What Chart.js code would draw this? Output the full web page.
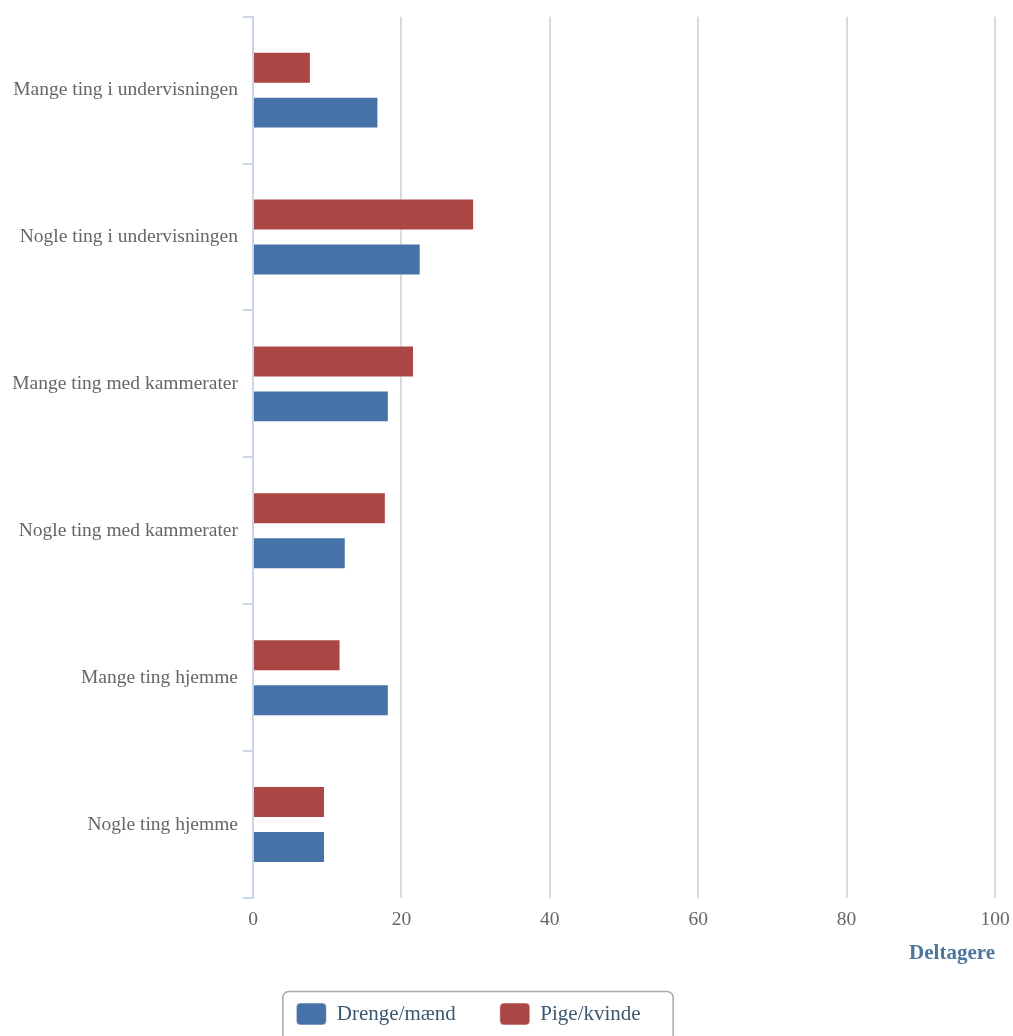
<!DOCTYPE html>
<html>
<head>
<meta charset="utf-8">
<script src="https://cdn.jsdelivr.net/npm/chart.js@4/dist/chart.umd.min.js"></script>
<style>
  body { margin: 0; background: #fff; }
  #wrap { width: 1013px; height: 1036px; position: relative; }
</style>
</head>
<body>
<div id="wrap"><canvas id="chart"></canvas></div>
<script>
const categories = [
  'Mange ting i undervisningen',
  'Nogle ting i undervisningen',
  'Mange ting med kammerater',
  'Nogle ting med kammerater',
  'Mange ting hjemme',
  'Nogle ting hjemme'
];
const drengeValues = [16.9, 22.6, 18.3, 12.5, 18.3, 9.7];
const pigeValues = [7.8, 29.8, 21.7, 17.9, 11.8, 9.7];
const xTicks = [0, 20, 40, 60, 80, 100];

const serif = '"Liberation Serif", "Times New Roman", serif';

// move the legend a bit left, like the original
const legendShift = {
  id: 'legendShift',
  afterLayout(chart) {
    chart.legend.left -= 29;
    chart.legend.right -= 29;
  }
};

// rounded frame round the legend items
const legendFrame = {
  id: 'legendFrame',
  afterDraw(chart) {
    const boxes = chart.legend.legendHitBoxes;
    if (!boxes || !boxes.length) return;
    const left = Math.min(...boxes.map(b => b.left)) - 14;
    const right = Math.max(...boxes.map(b => b.left + b.width)) + 32;
    const top = boxes[0].top - 12;
    const ctx = chart.ctx;
    ctx.save();
    ctx.strokeStyle = '#a8a8a8';
    ctx.lineWidth = 1.5;
    ctx.beginPath();
    ctx.roundRect(left + 0.5, top + 0.5, right - left, 70, 6);
    ctx.stroke();
    ctx.restore();
  }
};

new Chart(document.getElementById('chart'), {
  type: 'bar',
  data: {
    labels: categories,
    datasets: [
      {
        label: 'Pige/kvinde',
        data: pigeValues,
        backgroundColor: '#AA4643',
        borderColor: 'rgba(255,255,255,0.55)',
        borderWidth: 1,
        categoryPercentage: 0.612,
        barPercentage: 0.711
      },
      {
        label: 'Drenge/mænd',
        data: drengeValues,
        backgroundColor: '#4572A7',
        borderColor: 'rgba(255,255,255,0.55)',
        borderWidth: 1,
        categoryPercentage: 0.612,
        barPercentage: 0.711
      }
    ]
  },
  options: {
    indexAxis: 'y',
    responsive: true,
    maintainAspectRatio: false,
    animation: false,
    layout: { padding: { top: 15, right: 18, bottom: 1, left: 0 } },
    plugins: {
      tooltip: { enabled: false },
      legend: {
        position: 'bottom',
        reverse: true,
        labels: {
          font: { family: serif, size: 21 },
          color: '#3E576F',
          boxWidth: 30,
          boxHeight: 22,
          padding: 44,
          useBorderRadius: true,
          borderRadius: 4
        }
      }
    },
    scales: {
      x: {
        min: 0,
        max: 100,
        afterBuildTicks: s => { s.ticks = xTicks.map(v => ({ value: v })); },
        afterFit: s => {
          s.height = 61;
          s.paddingLeft = 0;
          s.paddingRight = 0;
        },
        ticks: {
          font: { family: serif, size: 19.5 },
          color: '#666666',
          padding: 10,
          maxRotation: 0
        },
        grid: {
          color: ctx => (ctx.tick && ctx.tick.value === 0) ? 'rgba(0,0,0,0)' : '#dadada',
          lineWidth: 2,
          drawTicks: false
        },
        border: { display: false },
        title: {
          display: true,
          text: 'Deltagere',
          align: 'end',
          color: '#4d759e',
          font: { family: serif, size: 21, weight: 'bold' },
          padding: { top: 0, bottom: -7 }
        }
      },
      y: {
        afterFit: s => { s.width = 253; },
        ticks: {
          font: { family: serif, size: 19.5 },
          color: '#666666',
          padding: 5
        },
        grid: {
          drawOnChartArea: false,
          color: '#C8D6E6',
          lineWidth: 2,
          tickLength: 10
        },
        border: { color: '#C8D6E6', width: 2 }
      }
    }
  },
  plugins: [legendShift, legendFrame]
});
</script>
</body>
</html>
